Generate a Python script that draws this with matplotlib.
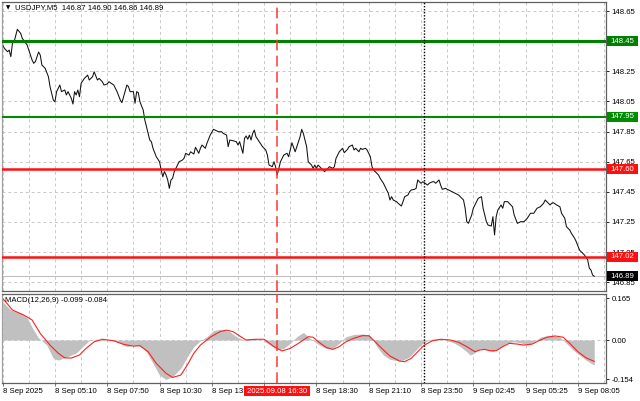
import matplotlib.pyplot as plt
from matplotlib.patches import Rectangle
from matplotlib.transforms import blended_transform_factory

# USDJPY M5, x = bar number from the first bar on the chart
price_bars = [0, 1, 3, 4, 5, 6, 7, 9, 11, 12, 15, 16, 18, 19, 20, 21, 22, 23, 24, 26,
              28, 29, 31, 32, 33, 35, 36, 38, 39, 40, 42, 43, 44, 45, 46, 47, 48, 50, 52, 53,
              55, 56, 58, 59, 61, 62, 64, 65, 68, 70, 72, 73, 74, 76, 77, 78, 80, 81, 82, 83,
              84, 86, 87, 88, 90, 91, 92, 94, 96, 97, 98, 99, 100, 101, 102, 103, 104, 105, 107, 108,
              110, 111, 112, 114, 115, 117, 118, 120, 121, 122, 124, 125, 127, 129, 130, 132, 134, 135, 137, 138,
              139, 141, 143, 144, 145, 147, 148, 149, 150, 151, 152, 153, 154, 155, 157, 159, 161, 162, 163, 165,
              166, 167, 168, 169, 170, 172, 174, 175, 177, 179, 180, 182, 183, 184, 186, 187, 189, 190, 191, 192,
              193, 195, 196, 197, 199, 200, 202, 203, 204, 206, 207, 208, 209, 211, 212, 214, 215, 216, 218, 219,
              220, 222, 223, 225, 226, 227, 228, 230, 231, 233, 234, 235, 236, 237, 238, 239, 241, 242, 244, 245,
              246, 248, 249, 250, 252, 253, 254, 255, 256, 257, 258, 260, 261, 263, 264, 265, 267, 268, 269, 271,
              272, 273, 275, 277, 279, 280, 282, 283, 284, 285, 287, 288, 290, 291, 293, 294, 296, 297, 299, 300,
              301, 302, 303, 305, 306, 307, 309, 312, 313, 315, 317, 319, 321, 323, 325, 327, 329, 331, 332, 333,
              335, 336, 337, 339, 341, 342, 344, 345, 347, 348, 350, 351, 353, 354, 356, 358, 359, 360, 361, 362]
price = [148.424, 148.403, 148.380, 148.391, 148.347, 148.436, 148.446, 148.529, 148.502, 148.469,
         148.424, 148.391, 148.325, 148.303, 148.314, 148.347, 148.378, 148.358, 148.292, 148.270,
         148.214, 148.148, 148.059, 148.048, 148.115, 148.159, 148.115, 148.126, 148.093, 148.115,
         148.071, 148.033, 148.115, 148.093, 148.126, 148.081, 148.170, 148.203, 148.225, 148.192,
         148.214, 148.247, 148.192, 148.203, 148.181, 148.159, 148.166, 148.181, 148.159, 148.115,
         148.059, 148.042, 148.081, 148.159, 148.148, 148.115, 148.115, 148.038, 148.115, 148.108,
         148.048, 147.993, 147.927, 147.882, 147.794, 147.783, 147.739, 147.683, 147.650, 147.595,
         147.550, 147.584, 147.562, 147.529, 147.473, 147.529, 147.540, 147.584, 147.628, 147.650,
         147.661, 147.673, 147.706, 147.694, 147.716, 147.701, 147.746, 147.706, 147.739, 147.761,
         147.739, 147.772, 147.827, 147.865, 147.860, 147.849, 147.849, 147.838, 147.827, 147.750,
         147.794, 147.789, 147.783, 147.761, 147.783, 147.706, 147.805, 147.821, 147.799, 147.827,
         147.794, 147.838, 147.860, 147.816, 147.783, 147.750, 147.728, 147.694, 147.628, 147.617,
         147.650, 147.617, 147.562, 147.606, 147.650, 147.694, 147.706, 147.683, 147.776, 147.716,
         147.750, 147.816, 147.865, 147.838, 147.750, 147.650, 147.628, 147.606, 147.628, 147.606,
         147.628, 147.606, 147.595, 147.584, 147.606, 147.617, 147.606, 147.617, 147.673, 147.716,
         147.728, 147.739, 147.710, 147.732, 147.750, 147.761, 147.728, 147.739, 147.716, 147.739,
         147.732, 147.739, 147.728, 147.683, 147.617, 147.595, 147.584, 147.562, 147.540, 147.507,
         147.484, 147.462, 147.440, 147.396, 147.418, 147.396, 147.385, 147.374, 147.356, 147.385,
         147.418, 147.429, 147.451, 147.462, 147.467, 147.473, 147.529, 147.517, 147.507, 147.517,
         147.511, 147.495, 147.507, 147.517, 147.517, 147.507, 147.529, 147.495, 147.467, 147.473,
         147.467, 147.462, 147.451, 147.440, 147.429, 147.418, 147.396, 147.341, 147.252, 147.241,
         147.296, 147.341, 147.385, 147.407, 147.418, 147.341, 147.252, 147.230, 147.223, 147.285,
         147.164, 147.285, 147.329, 147.363, 147.341, 147.385, 147.385, 147.351, 147.296, 147.241,
         147.252, 147.252, 147.274, 147.308, 147.308, 147.341, 147.351, 147.374, 147.396, 147.385,
         147.363, 147.374, 147.378, 147.363, 147.351, 147.308, 147.274, 147.219, 147.197, 147.175,
         147.142, 147.119, 147.064, 147.053, 147.031, 146.998, 146.943, 146.931, 146.898, 146.890]

# MACD(12,26,9): main (histogram) and signal
macd_bars = [0, 5, 11, 15, 19, 22, 24, 27, 31, 34, 39, 45, 49, 53, 57, 66, 72, 76, 80, 84,
             88, 92, 96, 100, 104, 109, 113, 117, 121, 125, 129, 133, 139, 143, 147, 153, 159, 164, 168, 172,
             176, 180, 184, 188, 192, 194, 198, 202, 206, 210, 215, 221, 225, 229, 233, 237, 241, 245, 249, 253,
             257, 262, 266, 272, 276, 280, 284, 286, 289, 292, 296, 300, 304, 308, 313, 317, 321, 325, 329, 333,
             337, 341, 345, 349, 353, 357, 361, 362]
macd_main = [0.151, 0.118, 0.106, 0.087, 0.039, 0.008, -0.003, -0.020, -0.072, -0.079,
             -0.067, -0.051, -0.026, -0.002, 0.003, 0.001, -0.013, -0.026, -0.020, -0.024,
             -0.046, -0.092, -0.138, -0.155, -0.144, -0.111, -0.066, -0.026, -0.003, 0.013,
             0.037, 0.042, 0.033, 0.013, 0.001, 0.007, -0.001, -0.020, -0.039, -0.033,
             -0.013, 0.013, 0.030, 0.007, -0.012, -0.020, -0.033, -0.033, -0.013, 0.013,
             0.022, 0.024, 0.016, -0.026, -0.059, -0.076, -0.081, -0.079, -0.066, -0.039,
             -0.013, 0.003, 0.005, -0.003, -0.011, -0.026, -0.046, -0.059, -0.050, -0.033,
             -0.037, -0.046, -0.033, -0.013, -0.007, -0.011, -0.020, -0.007, 0.011, 0.017,
             0.016, 0.011, -0.013, -0.039, -0.059, -0.079, -0.095, -0.099]
signal_bars = [0, 6, 13, 18, 23, 29, 34, 38, 42, 47, 51, 56, 61, 68, 74, 80, 84, 89, 94, 100,
               104, 109, 113, 117, 121, 127, 133, 137, 141, 145, 149, 155, 160, 166, 171, 176, 181, 187, 190, 194,
               198, 202, 206, 210, 215, 220, 224, 228, 232, 237, 243, 246, 250, 254, 258, 263, 268, 274, 279, 284,
               289, 292, 295, 298, 302, 306, 310, 315, 319, 324, 328, 333, 338, 343, 347, 352, 357, 362]
macd_signal = [0.164, 0.118, 0.098, 0.079, 0.026, -0.020, -0.052, -0.070, -0.071, -0.059,
               -0.033, -0.007, 0.003, -0.003, -0.017, -0.024, -0.022, -0.046, -0.092, -0.131,
               -0.147, -0.138, -0.098, -0.052, -0.020, 0.011, 0.033, 0.039, 0.033, 0.016,
               0.0, 0.003, 0.003, -0.026, -0.043, -0.033, -0.013, 0.013, 0.011, -0.011,
               -0.029, -0.037, -0.026, -0.007, 0.007, 0.017, 0.017, -0.007, -0.033, -0.063,
               -0.083, -0.085, -0.072, -0.046, -0.020, -0.003, 0.003, 0.0, -0.009, -0.026,
               -0.046, -0.039, -0.037, -0.042, -0.042, -0.026, -0.013, -0.016, -0.020, -0.016,
               -0.003, 0.011, 0.016, 0.011, -0.013, -0.046, -0.070, -0.084]

time_ticks = [0, 32, 64, 96, 128, 192, 224, 256, 288, 320, 352]
time_labels = ["8 Sep 2025", "8 Sep 05:10", "8 Sep 07:50", "8 Sep 10:30", "8 Sep 13:10",
               "8 Sep 18:30", "8 Sep 21:10", "8 Sep 23:50", "9 Sep 02:45", "9 Sep 05:25", "9 Sep 08:05"]
price_ticks = [146.85, 147.05, 147.25, 147.45, 147.65, 147.85, 148.05, 148.25, 148.45, 148.65]
macd_ticks = [-0.154, 0.0, 0.165]
macd_tick_labels = ["-0.154", "0.00", "0.165"]

levels = [148.45, 147.95, 147.60, 147.02]
level_colors = ["#008000", "#008c00", "#ff1010", "#ff1010"]
level_widths = [2.2, 1.5, 1.8, 1.8]
last_price = 146.89
marker_bar = 168
marker_label = "2025.09.08 16:30"
day_break_bar = 258

GRID = "#c8c8c8"
BORDER = "#606060"


def style_axes(ax):
    for s in ax.spines.values():
        s.set_color(BORDER)
        s.set_linewidth(0.9)
    ax.spines["left"].set_color("#a0a0a0")
    ax.set_xlim(-0.4, 369.2)
    for b in range(0, 369, 16):
        ax.axvline(b, color=GRID, lw=0.7, ls=(0, (3, 3)), zorder=0)
    ax.axvline(marker_bar, color="#ff3535", lw=1.1, ls=(0, (7, 3.5)), zorder=4)
    ax.axvline(day_break_bar, color="black", lw=1.0, ls=(0, (1, 1.2)), zorder=4)
    ax.yaxis.tick_right()
    ax.tick_params(axis="y", length=2.5, width=0.6, pad=1.5, colors="black", labelsize=5.6)
    ax.tick_params(axis="x", length=0, labelbottom=False)


def main():
    plt.rcParams["font.family"] = ["Liberation Sans", "DejaVu Sans"]
    plt.rcParams["font.size"] = 5.6

    fig = plt.figure(figsize=(6.4, 4.01), dpi=100)
    ax = fig.add_axes([2 / 640, 1 - 291 / 401, 604 / 640, 289 / 401])
    ax2 = fig.add_axes([2 / 640, 1 - 383 / 401, 604 / 640, 89 / 401])

    # Price panel
    style_axes(ax)
    ax.set_ylim(146.792, 148.710)
    ax.set_yticks(price_ticks)
    ax.set_yticklabels([f"{v:.2f}" for v in price_ticks])
    for v in price_ticks:
        ax.axhline(v, color=GRID, lw=0.7, ls=(0, (3, 3)), zorder=0)

    ax.axhline(last_price, color="#c0c0c0", lw=0.8, zorder=1)
    ax.plot(price_bars, price, color="#111111", lw=0.75, zorder=2)

    tr = blended_transform_factory(ax.transAxes, ax.transData)
    box_h = 10 / 150.7
    for lvl, c, w in zip(levels, level_colors, level_widths):
        ax.axhline(lvl, color=c, lw=w, zorder=3)
    for lvl, c in zip(levels + [last_price], level_colors + ["black"]):
        ax.add_patch(Rectangle((1.002, lvl - box_h / 2), 0.051, box_h, transform=tr,
                               facecolor=c, edgecolor="none", clip_on=False, zorder=5))
        ax.text(1.008, lvl, f"{lvl:.2f}", transform=tr, color="white", va="center",
                ha="left", clip_on=False, zorder=6)

    ax.text(4 / 604, 1 - 6 / 289, "\u25bc", transform=ax.transAxes, fontsize=4,
            family="DejaVu Sans", va="center", ha="left")
    ax.text(13 / 604, 1 - 6 / 289, "USDJPY,M5  146.87 146.90 146.86 146.89",
            transform=ax.transAxes, va="center", ha="left")

    # MACD panel
    style_axes(ax2)
    ax2.set_ylim(-0.169, 0.181)
    ax2.set_yticks(macd_ticks)
    ax2.set_yticklabels(macd_tick_labels)
    ax2.axhline(0, color=GRID, lw=0.7, ls=(0, (3, 3)), zorder=0)
    ax2.fill_between(macd_bars, 0, macd_main, color="#c0c0c0", lw=0, zorder=1)
    ax2.plot(signal_bars, macd_signal, color="#ff2020", lw=0.8, zorder=2)
    ax2.text(3 / 604, 1 - 6 / 89, "MACD(12,26,9) -0.099 -0.084", transform=ax2.transAxes,
             va="center", ha="left")

    # time axis
    tx = blended_transform_factory(ax2.transData, ax2.transAxes)
    ax2.set_xticks(time_ticks + [160])
    ax2.tick_params(axis="x", length=2.5, width=0.6, color=BORDER, direction="out")
    for b, lab in zip(time_ticks, time_labels):
        ax2.text(b, -0.095, lab, transform=tx, ha="left", va="center", clip_on=False, zorder=3)
    ax2.add_patch(Rectangle((marker_bar - 20.2, -0.147), 40.4, 0.114, transform=tx,
                            facecolor="#ff1010", edgecolor="none", clip_on=False, zorder=5))
    ax2.text(marker_bar, -0.092, marker_label, transform=tx, color="white",
             ha="center", va="center", clip_on=False, zorder=6)

    fig.savefig("out.png", dpi=100)


if __name__ == "__main__":
    main()
